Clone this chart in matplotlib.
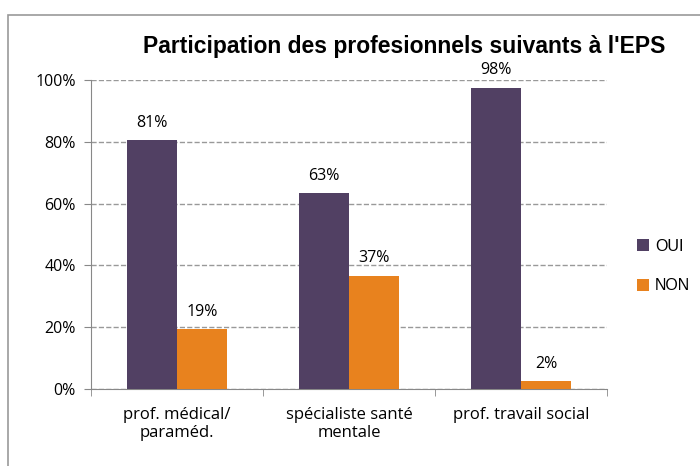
import matplotlib.pyplot as plt
import numpy as np
from matplotlib.patches import Rectangle

# Data
categories = ["prof. médical/\nparaméd.", "spécialiste santé\nmentale", "prof. travail social"]
oui = [80.6, 63.3, 97.5]
non = [19.4, 36.7, 2.5]
oui_labels = ["81%", "63%", "98%"]
non_labels = ["19%", "37%", "2%"]

purple = "#514063"
orange = "#E8821E"
font = "Open Sans"

fig = plt.figure(figsize=(7, 4.66), dpi=100)
ax = fig.add_axes([91/700, 1 - 389/466, (607-91)/700, (389-80)/466])

# outer frame
fig.patches.append(Rectangle((8/700, -0.1), 1.2, (466-15)/466 + 0.1, transform=fig.transFigure,
                             fill=False, edgecolor="#999999", linewidth=1.2))

x = np.arange(len(categories))
w = 0.29
b1 = ax.bar(x - w/2, oui, w, color=purple, label="OUI", zorder=3)
b2 = ax.bar(x + w/2, non, w, color=orange, label="NON", zorder=3)

for bar, txt in zip(b1, oui_labels):
    ax.text(bar.get_x() + bar.get_width()/2, bar.get_height() + 3, txt,
            ha="center", va="bottom", fontsize=11.5, family=font)
for bar, txt in zip(b2, non_labels):
    ax.text(bar.get_x() + bar.get_width()/2, bar.get_height() + 3, txt,
            ha="center", va="bottom", fontsize=11.5, family=font)

ax.set_xlim(-0.5, 2.5)
ax.set_ylim(0, 100)
ax.set_yticks([0, 20, 40, 60, 80, 100])
ax.set_yticklabels(["0%", "20%", "40%", "60%", "80%", "100%"], family=font, fontsize=11.5)
ax.set_xticks(x)
ax.set_xticklabels(categories, family=font, fontsize=12)
ax.set_xticks([-0.5, 0.5, 1.5, 2.5], minor=True)
ax.tick_params(axis="x", which="major", length=0, pad=13)
ax.tick_params(axis="x", which="minor", length=5, color="#888888")
ax.tick_params(axis="y", length=5, color="#888888", pad=6)

ax.yaxis.grid(True, linestyle="--", color="#999999", linewidth=1, zorder=0)
for s in ["top", "right"]:
    ax.spines[s].set_visible(False)
for s in ["left", "bottom"]:
    ax.spines[s].set_color("#888888")

fig.text(0.577, 1 - 47/466, "Participation des profesionnels suivants à l'EPS",
         ha="center", va="center", fontsize=16.5, fontweight="bold", family="Liberation Sans")

leg = ax.legend(loc="center left", bbox_to_anchor=(1.0, 0.40), frameon=False,
                prop={"family": "Liberation Sans", "size": 11.5}, handlelength=0.75, handleheight=0.75,
                labelspacing=1.55, handletextpad=0.35, borderaxespad=0, borderpad=0)
# nudge legend so the squares start near x=640 px
leg.set_bbox_to_anchor((640/700 - 0.004, 1 - 266/466), transform=fig.transFigure)

plt.savefig("out.png", dpi=100)
